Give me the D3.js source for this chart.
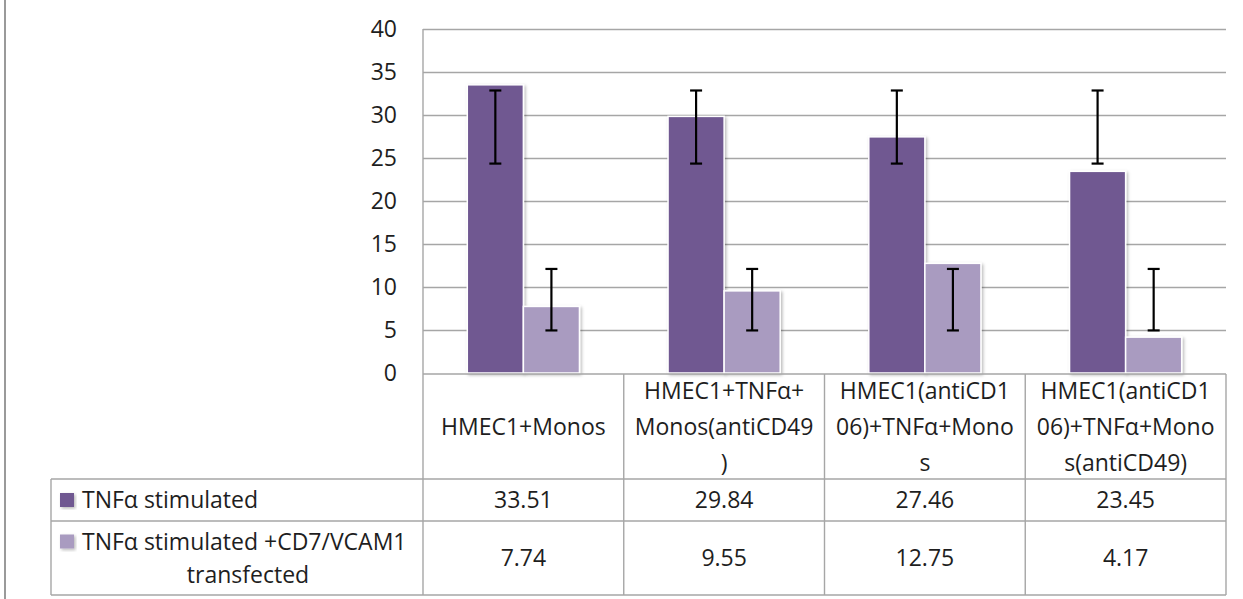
<!DOCTYPE html>
<html>
<head>
<meta charset="utf-8">
<script src="https://cdn.jsdelivr.net/npm/d3@7"></script>
<style>
  html, body { margin: 0; padding: 0; background: #fff; }
  svg { display: block; }
  text { font-family: "Open Sans", sans-serif; fill: #1e1e1e; }
</style>
</head>
<body>
<svg id="chart" width="1243" height="599"></svg>
<script>
// ---- data ----
const categories = [
  "HMEC1+Monos",
  "HMEC1+TNFα+Monos(antiCD49)",
  "HMEC1(antiCD106)+TNFα+Monos",
  "HMEC1(antiCD106)+TNFα+Monos(antiCD49)"
];
const categoryLines = [
  ["HMEC1+Monos"],
  ["HMEC1+TNFα+", "Monos(antiCD49", ")"],
  ["HMEC1(antiCD1", "06)+TNFα+Mono", "s"],
  ["HMEC1(antiCD1", "06)+TNFα+Mono", "s(antiCD49)"]
];
const seriesNames = ["TNFα stimulated", "TNFα stimulated +CD7/VCAM1 transfected"];
const seriesLines = [["TNFα stimulated"], ["TNFα stimulated +CD7/VCAM1", "transfected"]];
const stimulated = [33.51, 29.84, 27.46, 23.45];
const transfected = [7.74, 9.55, 12.75, 4.17];
const stimulatedErrLow  = [24.35, 24.35, 24.35, 24.35];
const stimulatedErrHigh = [32.85, 32.85, 32.85, 32.85];
const transfectedErrLow  = [4.95, 4.95, 4.95, 4.95];
const transfectedErrHigh = [12.1, 12.1, 12.1, 12.1];
const yTicks = [0, 5, 10, 15, 20, 25, 30, 35, 40];

// ---- layout ----
const colors = ["#6F5891", "#A99BC0"];
const gridColor = "#a6a6a6";
const plotLeft = 423, plotRight = 1226, plotTop = 29, plotBottom = 373;
const tableLeft = 51, rowTops = [374, 479, 521, 595];

const svg = d3.select("#chart");
const defs = svg.append("defs");
const f = defs.append("filter").attr("id", "sh").attr("x", "-20%").attr("y", "-20%").attr("width", "140%").attr("height", "140%");
f.append("feDropShadow").attr("dx", 1.5).attr("dy", 1.5).attr("stdDeviation", 1.8)
  .attr("flood-color", "#000").attr("flood-opacity", 0.28);

const series = [
  { name: seriesNames[0], lines: seriesLines[0], values: stimulated, lo: stimulatedErrLow, hi: stimulatedErrHigh },
  { name: seriesNames[1], lines: seriesLines[1], values: transfected, lo: transfectedErrLow, hi: transfectedErrHigh }
];

const x = d3.scaleBand().domain(categories).range([plotLeft, plotRight]).paddingInner(0).paddingOuter(0);
const x1 = d3.scaleBand().domain(d3.range(series.length)).range([0, x.bandwidth()]).paddingInner(0).paddingOuter(0.79);
const y = d3.scaleLinear().domain([0, 40]).range([plotBottom, plotTop]);

// outer left border
svg.append("line").attr("x1", 5).attr("x2", 5).attr("y1", 0).attr("y2", 599)
  .attr("stroke", "#9a9a9a").attr("stroke-width", 2);

// gridlines
svg.append("g").selectAll("line").data(yTicks.filter(t => t > 0)).join("line")
  .attr("x1", plotLeft).attr("x2", plotRight)
  .attr("y1", d => Math.round(y(d)) + 0.5).attr("y2", d => Math.round(y(d)) + 0.5)
  .attr("stroke", gridColor).attr("stroke-width", 1.3);

// y axis labels
const yAxis = svg.append("g").attr("transform", `translate(${plotLeft},0)`)
  .call(d3.axisLeft(y).tickValues(yTicks).tickSize(0).tickPadding(26).tickFormat(d3.format("d")));
yAxis.select(".domain").remove();
yAxis.selectAll("text").attr("font-size", 23).style("font-family", "'Open Sans', sans-serif").attr("fill", "#1e1e1e");

// bars
const groups = svg.append("g").selectAll("g").data(categories).join("g")
  .attr("transform", d => `translate(${x(d)},0)`);
groups.selectAll("rect").data((c, i) => series.map((s, si) => ({ si, v: s.values[i] }))).join("rect")
  .attr("x", d => x1(d.si))
  .attr("width", x1.bandwidth())
  .attr("y", d => y(d.v))
  .attr("height", d => y(0) - y(d.v))
  .attr("fill", d => colors[d.si])
  .attr("stroke", "#fff").attr("stroke-width", 1.5)
  .attr("filter", "url(#sh)");

// error bars
const capW = 12;
const eb = groups.selectAll("g.eb").data((c, i) => series.map((s, si) => ({ si, lo: s.lo[i], hi: s.hi[i] }))).join("g")
  .attr("class", "eb")
  .attr("stroke", "#000").attr("stroke-width", 2.2);
eb.append("line").attr("x1", d => x1(d.si) + x1.bandwidth() / 2).attr("x2", d => x1(d.si) + x1.bandwidth() / 2)
  .attr("y1", d => y(d.hi)).attr("y2", d => y(d.lo));
eb.append("line").attr("x1", d => x1(d.si) + x1.bandwidth() / 2 - capW / 2).attr("x2", d => x1(d.si) + x1.bandwidth() / 2 + capW / 2)
  .attr("y1", d => y(d.hi)).attr("y2", d => y(d.hi));
eb.append("line").attr("x1", d => x1(d.si) + x1.bandwidth() / 2 - capW / 2).attr("x2", d => x1(d.si) + x1.bandwidth() / 2 + capW / 2)
  .attr("y1", d => y(d.lo)).attr("y2", d => y(d.lo));

// table lines
const tl = svg.append("g").attr("stroke", gridColor).attr("stroke-width", 1.4);
tl.append("line").attr("x1", plotLeft).attr("x2", plotRight).attr("y1", rowTops[0]).attr("y2", rowTops[0]);
rowTops.slice(1).forEach(yy => tl.append("line").attr("x1", tableLeft).attr("x2", plotRight).attr("y1", yy).attr("y2", yy));
tl.append("line").attr("x1", tableLeft).attr("x2", tableLeft).attr("y1", rowTops[1]).attr("y2", rowTops[3]);
tl.append("line").attr("x1", plotLeft).attr("x2", plotLeft).attr("y1", plotTop).attr("y2", rowTops[3]);
categories.forEach(c => {
  const xr = x(c) + x.bandwidth();
  tl.append("line").attr("x1", xr).attr("x2", xr).attr("y1", rowTops[0]).attr("y2", rowTops[3]);
});

// category labels
const lineH = 36;
categories.forEach((c, i) => {
  const lines = categoryLines[i];
  const cy = (rowTops[0] + rowTops[1]) / 2;
  const t = svg.append("text").attr("text-anchor", "middle").attr("font-size", 23);
  lines.forEach((ln, k) => {
    t.append("tspan").attr("x", x(c) + x.bandwidth() / 2)
      .attr("y", cy + (k - (lines.length - 1) / 2) * lineH)
      .attr("dy", "0.35em").text(ln);
  });
});

// series rows
series.forEach((s, si) => {
  const top = rowTops[si + 1], bot = rowTops[si + 2];
  const cy = (top + bot) / 2;
  const nL = s.lines.length;
  const rowLineH = 33;
  const firstY = cy - (nL - 1) / 2 * rowLineH;
  svg.append("rect").attr("x", 60).attr("y", firstY - 7).attr("width", 14).attr("height", 14)
    .attr("fill", colors[si]).attr("filter", "url(#sh)");
  svg.append("text").attr("x", 82).attr("y", firstY).attr("dy", "0.35em").attr("font-size", 23).text(s.lines[0]);
  for (let k = 1; k < nL; k++) {
    svg.append("text").attr("x", (tableLeft + plotLeft) / 2 + 11).attr("y", firstY + k * rowLineH)
      .attr("dy", "0.35em").attr("text-anchor", "middle").attr("font-size", 23).text(s.lines[k]);
  }
  categories.forEach((c, i) => {
    svg.append("text").attr("x", x(c) + x.bandwidth() / 2).attr("y", cy).attr("dy", "0.35em")
      .attr("text-anchor", "middle").attr("font-size", 23).text(s.values[i].toFixed(2));
  });
});
</script>
</body>
</html>
